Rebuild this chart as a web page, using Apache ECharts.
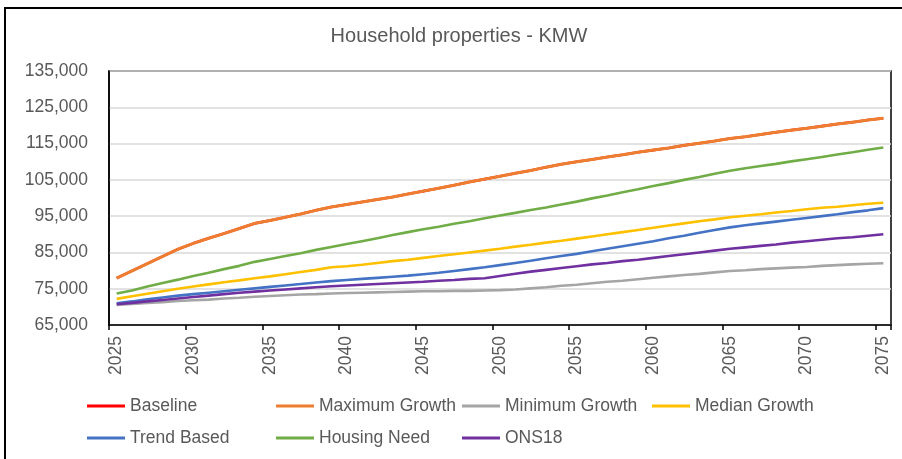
<!DOCTYPE html>
<html>
<head>
<meta charset="utf-8">
<script src="https://cdn.jsdelivr.net/npm/echarts@6/dist/echarts.min.js"></script>
<style>
html,body{margin:0;padding:0;background:#fff;}
#chart{width:902px;height:459px;}
</style>
</head>
<body>
<div id="chart"></div>
<script>
const years = [];
for (let y = 2025; y <= 2075; y++) years.push(String(y));

const seriesNames = ['Baseline','Maximum Growth','Minimum Growth','Median Growth','Trend Based','Housing Need','ONS18'];
const seriesColors = ['#FF0000','#ED7D31','#A5A5A5','#FFC000','#4472C4','#70AD47','#7030A0'];

const maximumGrowth = [77900,79900,81900,83900,85900,87500,88900,90200,91600,93000,
  93800,94700,95600,96600,97500,98200,98900,99600,100300,101100,
  101900,102700,103500,104400,105200,106000,106800,107600,108500,109300,
  110000,110600,111300,111900,112600,113200,113800,114500,115100,115700,
  116400,116900,117500,118100,118700,119200,119800,120400,120900,121500,122000];
const baseline = maximumGrowth.slice();
const minimumGrowth = [70500,70800,71100,71300,71600,71800,72000,72300,72500,72800,
  73000,73200,73400,73500,73700,73800,73900,74000,74100,74200,
  74300,74300,74400,74400,74500,74600,74800,75100,75400,75800,
  76100,76500,76900,77200,77600,78000,78400,78800,79100,79500,
  79900,80100,80400,80600,80800,81000,81300,81500,81700,81900,82000];
const medianGrowth = [72200,72900,73600,74300,75000,75600,76200,76800,77300,77900,
  78400,79000,79600,80200,80900,81200,81600,82100,82600,83000,
  83500,84000,84500,85000,85500,86000,86600,87100,87700,88200,
  88800,89400,90000,90600,91200,91800,92400,93000,93600,94100,
  94700,95100,95500,96000,96400,96900,97300,97600,98000,98400,98700];
const trendBased = [71000,71500,72100,72600,73100,73500,73900,74300,74700,75100,
  75500,75900,76300,76700,77100,77400,77700,78000,78300,78600,
  79000,79400,79900,80400,80900,81500,82100,82700,83400,84000,
  84600,85300,86000,86700,87400,88100,88900,89600,90400,91200,
  91900,92500,93000,93500,94000,94500,95000,95500,96100,96600,97200];
const housingNeed = [73700,74500,75600,76600,77500,78500,79400,80400,81300,82400,
  83200,84000,84800,85700,86500,87300,88100,88900,89800,90600,
  91400,92100,92900,93600,94400,95200,95900,96700,97400,98200,
  99000,99900,100700,101600,102400,103300,104100,105000,105800,106700,
  107500,108200,108800,109400,110100,110700,111300,112000,112600,113300,113900];
const ons18 = [70700,71100,71500,71900,72300,72700,73100,73500,73900,74200,
  74500,74800,75100,75400,75700,75900,76100,76300,76500,76700,
  76900,77200,77400,77700,77900,78500,79100,79700,80200,80700,
  81200,81700,82100,82600,83000,83500,84000,84500,85000,85500,
  86000,86400,86800,87200,87700,88100,88500,88900,89200,89600,90000];

const seriesData = [baseline, maximumGrowth, minimumGrowth, medianGrowth, trendBased, housingNeed, ons18];

const yMin = 65000, yMax = 135000, yStep = 10000;

const legendPos = [
  {left: 87, top: 397}, {left: 276, top: 397}, {left: 462, top: 397}, {left: 652, top: 397},
  {left: 87, top: 429}, {left: 276, top: 429}, {left: 462, top: 429}
];

const chart = echarts.init(document.getElementById('chart'), null, {renderer: 'canvas'});
const textColor = '#595959';
const fontFamily = '"Liberation Sans", Arial, sans-serif';

const option = {
  animation: false,
  backgroundColor: '#fff',
  title: {
    text: 'Household properties - KMW',
    left: 459, top: 26, textAlign: 'center', padding: 0,
    textStyle: {color: textColor, fontSize: 20, fontWeight: 'normal', fontFamily: fontFamily}
  },
  graphic: [{
    type: 'rect', silent: true,
    shape: {x: 5, y: 8, width: 1000, height: 1000},
    style: {fill: 'none', stroke: '#000', lineWidth: 2}
  }],
  legend: seriesNames.map((n, i) => ({
    data: [n], left: legendPos[i].left, top: legendPos[i].top, padding: 0,
    icon: 'rect', itemWidth: 38, itemHeight: 3,
    textStyle: {color: textColor, fontSize: 17.5, fontFamily: fontFamily},
    selectedMode: false
  })),
  grid: {
    left: 109, top: 71, right: 11, bottom: 134,
    show: true, borderColor: '#000', borderWidth: 1.5, containLabel: false
  },
  xAxis: {
    type: 'category', data: years, boundaryGap: true,
    axisLine: {show: true, lineStyle: {color: '#000', width: 1.5}},
    axisTick: {show: true, interval: 4, alignWithLabel: false, length: 5, lineStyle: {color: '#000', width: 1.5}},
    axisLabel: {interval: 4, rotate: 90, margin: 11, color: textColor, fontSize: 17.5, fontFamily: fontFamily},
    splitLine: {show: false}
  },
  yAxis: {
    type: 'value', min: yMin, max: yMax, interval: yStep,
    axisLine: {show: true, lineStyle: {color: '#000', width: 1.5}},
    axisTick: {show: false},
    axisLabel: {
      margin: 21, color: textColor, fontSize: 17.5, fontFamily: fontFamily,
      formatter: v => v.toLocaleString('en-US')
    },
    splitLine: {show: true, lineStyle: {color: '#D9D9D9', width: 1.5}}
  },
  series: seriesNames.map((n, i) => ({
    name: n, type: 'line', data: seriesData[i],
    showSymbol: false, symbol: 'none', smooth: false,
    lineStyle: {color: seriesColors[i], width: i === 1 ? 3 : 2.6},
    itemStyle: {color: seriesColors[i]}
  }))
};
chart.setOption(option);
</script>
</body>
</html>
